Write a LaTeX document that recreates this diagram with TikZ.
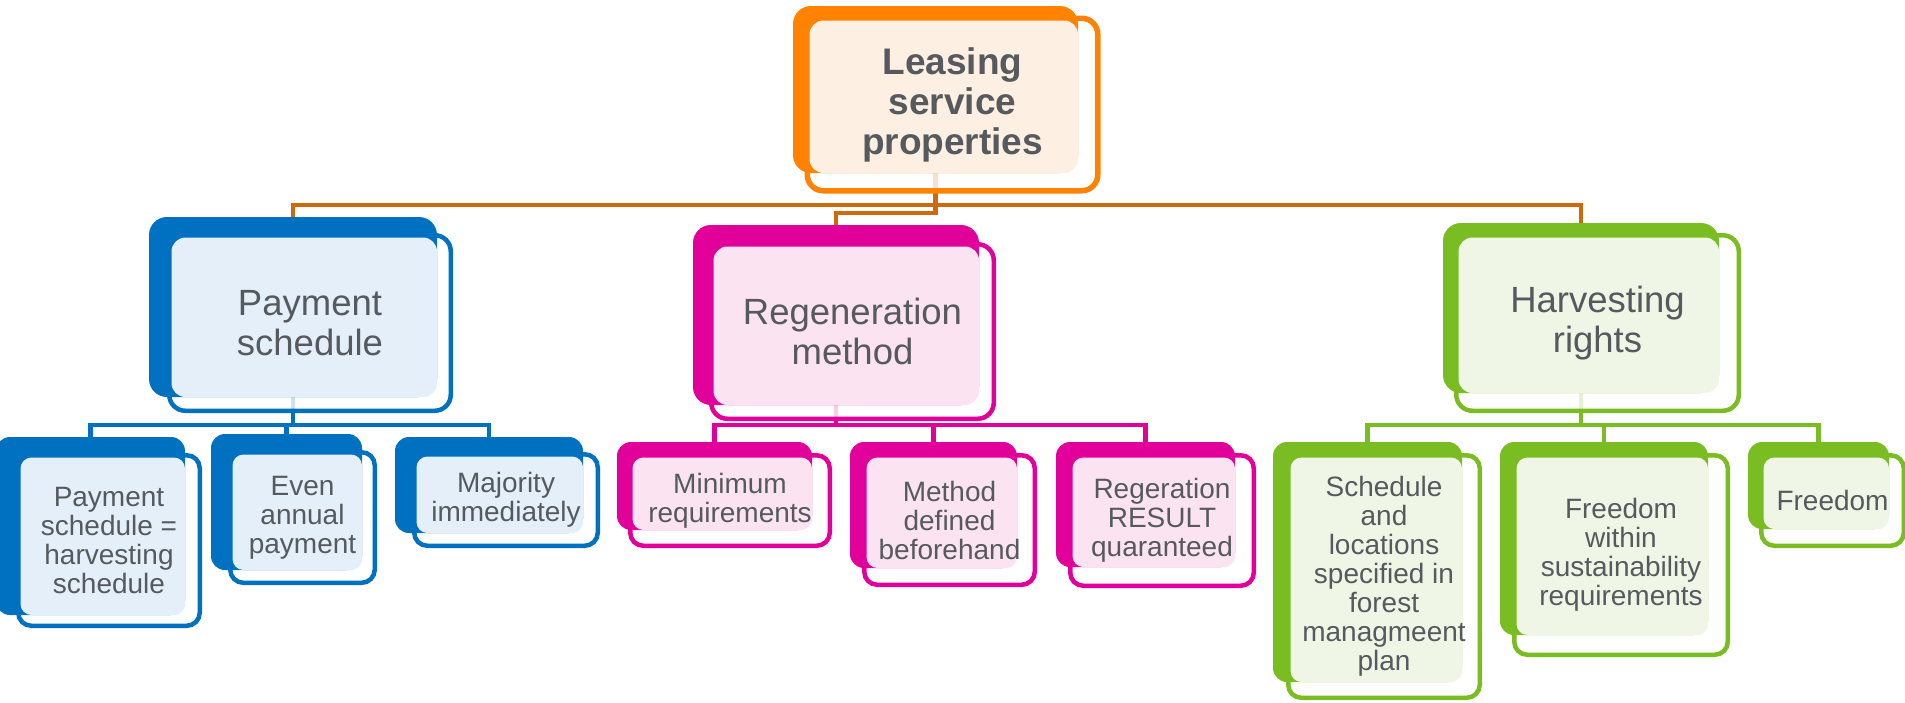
\documentclass[tikz,border=0pt]{standalone}
\usepackage{fontspec}
\setmainfont{Liberation Sans}
\usetikzlibrary{calc,fit}

\definecolor{blueD}{HTML}{0070C0}
\definecolor{blueL}{HTML}{E4EFF9}
\definecolor{pinkD}{HTML}{E2009A}
\definecolor{pinkL}{HTML}{FBE3F2}
\definecolor{greenD}{HTML}{7ABD22}
\definecolor{greenL}{HTML}{EFF6E6}
\definecolor{orangeD}{HTML}{FF8200}
\definecolor{orangeL}{HTML}{FDEFE2}
\definecolor{trunk}{HTML}{CF6A0C}
\definecolor{ink}{HTML}{565A5E}

\pgfdeclarelayer{back}
\pgfsetlayers{back,main}

\tikzset{
  topsolid/.style={rounded corners=18pt},
  topframe/.style={rounded corners=16pt, line width=5.5pt},
  toplight/.style={rounded corners=14pt},
  toptext/.style={text=ink, align=center, inner sep=0pt,
    font=\fontsize{37}{40}\selectfont\bfseries},
  parentsolid/.style={rounded corners=18pt},
  parentframe/.style={rounded corners=16pt, line width=4.5pt},
  parentlight/.style={rounded corners=14pt},
  parenttext/.style={text=ink, align=center, inner sep=0pt,
    font=\fontsize{36.5}{40}\selectfont},
  childsolid/.style={rounded corners=14pt},
  childframe/.style={rounded corners=13pt, line width=4.5pt},
  childlight/.style={rounded corners=11pt},
  childtext/.style={text=ink, align=center, inner sep=0pt,
    font=\fontsize{28}{29}\selectfont},
  conn/.style={line width=4.5pt},
}

% #1 name, #2 colour family, #3 level, #4/#5 solid block corners,
% #6/#7 outer corners of the framed card, #8 label
\newcommand\orgbox[8]{%
  \path[#3frame, draw=#2D, fill=white, fill opacity=0.8]
    ($#6+(2.25,2.25)$) rectangle ($#7-(2.25,2.25)$);
  \node[#3solid, fill=#2D, inner sep=0pt, fit={#4 #5}] (#1) {};
  \path[#3light, fill=#2L] ($#6+(4.5,4.5)$) rectangle #5;
  \node[#3text] (#1-label) at ($#6!0.5!#7$) {#8};
}

\begin{document}
\begin{tikzpicture}[x=1pt, y=-1pt]
\useasboundingbox (0,0) rectangle (1905,702);

% root
\orgbox{lease}{orange}{top}{(793,6)}{(1078,173)}{(805,16)}{(1100,193)}{Leasing\\service\\properties}

% second level
\orgbox{pay}{blue}{parent}{(149,217)}{(437,397)}{(167,233)}{(453,413)}{Payment\\schedule}
\orgbox{regen}{pink}{parent}{(693,225)}{(979,405)}{(709,242)}{(996,421)}{Regeneration\\method}
\orgbox{harv}{green}{parent}{(1443,223)}{(1719,393)}{(1454,233)}{(1741,413)}{Harvesting\\rights}

% payment schedule options
\orgbox{payA}{blue}{child}{(-4,437)}{(185,615)}{(16,453)}{(202,628)}{Payment\\schedule =\\harvesting\\schedule}
\orgbox{payB}{blue}{child}{(211,434)}{(362,570)}{(228,450)}{(377,585)}{Even\\annual\\payment}
\orgbox{payC}{blue}{child}{(395,437)}{(583,533)}{(412,452)}{(600,548)}{Majority\\immediately}

% regeneration options
\orgbox{regA}{pink}{child}{(617,442)}{(812,530)}{(628,453)}{(832,548)}{Minimum\\requirements}
\orgbox{regB}{pink}{child}{(850,442)}{(1017,568)}{(862,453)}{(1037,587)}{Method\\defined\\beforehand}
\orgbox{regC}{pink}{child}{(1056,442)}{(1235,567)}{(1068,453)}{(1256,588)}{Regeration\\RESULT\\quaranteed}

% harvesting options
\orgbox{harA}{green}{child}{(1273,442)}{(1462,682)}{(1286,453)}{(1482,700)}{Schedule\\and\\locations\\specified in\\forest\\managmeent\\plan}
\orgbox{harB}{green}{child}{(1500,442)}{(1708,635)}{(1512,453)}{(1730,657)}{Freedom\\within\\sustainability\\requirements}
\orgbox{harC}{green}{child}{(1748,442)}{(1889,529)}{(1759,453)}{(1906,548)}{Freedom}

% connectors, kept behind the cards
\coordinate (trunkbar) at (0,205);
\coordinate (trunkjog) at (0,213);
\coordinate (bar) at (0,425);
\begin{pgfonlayer}{back}
  \draw[conn, trunk] (pay.north) -- (pay.north |- trunkbar) -- (harv.north |- trunkbar) -- (harv.north);
  \draw[conn, trunk] (lease.south) -- (lease.south |- trunkjog) -- (regen.north |- trunkjog) -- (regen.north);

  \draw[conn, blueD] (pay.south) -- (pay.south |- bar);
  \draw[conn, blueD] (payA.north) -- (payA.north |- bar) -- (payC.north |- bar) -- (payC.north);
  \draw[conn, blueD] (payB.north) -- (payB.north |- bar);

  \draw[conn, pinkD] (regen.south) -- (regen.south |- bar);
  \draw[conn, pinkD] (regA.north) -- (regA.north |- bar) -- (regC.north |- bar) -- (regC.north);
  \draw[conn, pinkD] (regB.north) -- (regB.north |- bar);

  \draw[conn, greenD] (harv.south) -- (harv.south |- bar);
  \draw[conn, greenD] (harA.north) -- (harA.north |- bar) -- (harC.north |- bar) -- (harC.north);
  \draw[conn, greenD] (harB.north) -- (harB.north |- bar);
\end{pgfonlayer}
\end{tikzpicture}
\end{document}
